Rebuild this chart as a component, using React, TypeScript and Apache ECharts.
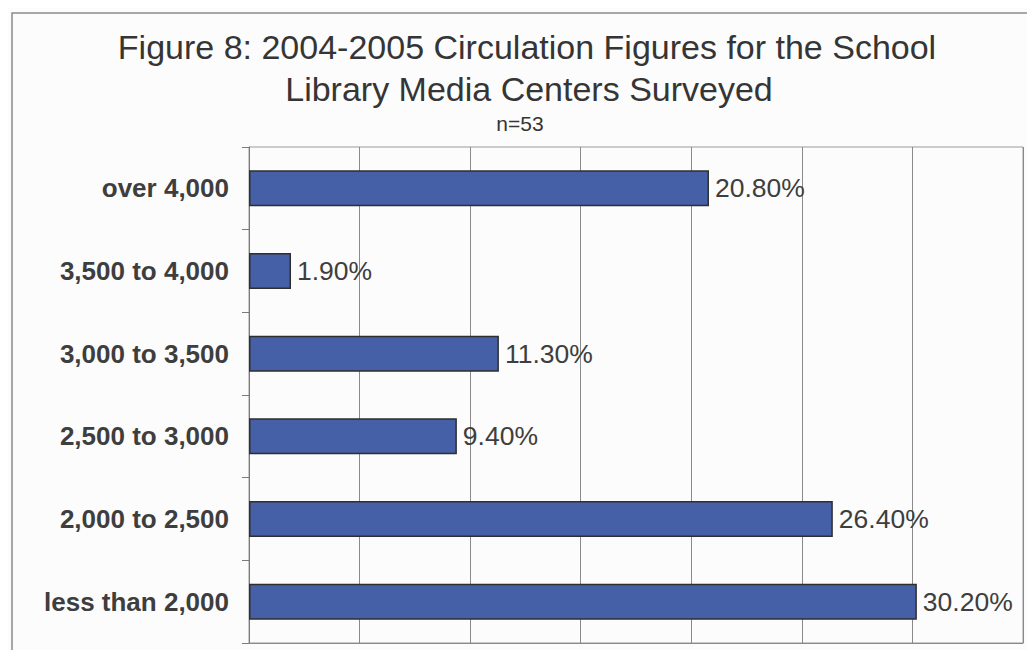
import React, { useEffect, useRef } from "react";
import * as echarts from "echarts";

const categories = [
  "less than 2,000",
  "2,000 to 2,500",
  "2,500 to 3,000",
  "3,000 to 3,500",
  "3,500 to 4,000",
  "over 4,000",
];
const values = [30.2, 26.4, 9.4, 11.3, 1.9, 20.8];
const titleLines = [
  "Figure 8: 2004-2005 Circulation Figures for the School",
  "Library Media Centers Surveyed",
];
const subtitle = "n=53";

export default function App() {
  const ref = useRef<HTMLDivElement>(null);
  useEffect(() => {
    if (!ref.current) return;
    const chart = echarts.init(ref.current, null, { renderer: "svg" });
    const font = "'Liberation Sans', Arial, sans-serif";
    chart.setOption({
      animation: false,
      backgroundColor: "#fcfcfc",
      graphic: [
        {
          type: "rect",
          shape: { x: 12, y: 13, width: 1040, height: 642 },
          style: { fill: "none", stroke: "#8a8a8a", lineWidth: 1.5 },
          silent: true,
        },
        {
          type: "text",
          x: 527,
          y: 47,
          style: {
            text: titleLines[0],
            font: `34px ${font}`,
            fill: "#353535",
            align: "center",
            verticalAlign: "middle",
          },
        },
        {
          type: "text",
          x: 529,
          y: 89,
          style: {
            text: titleLines[1],
            font: `34px ${font}`,
            fill: "#353535",
            align: "center",
            verticalAlign: "middle",
          },
        },
        {
          type: "text",
          x: 520,
          y: 123,
          style: {
            text: subtitle,
            font: `21px ${font}`,
            fill: "#353535",
            align: "center",
            verticalAlign: "middle",
          },
        },
      ],
      grid: {
        left: 249,
        right: 12,
        top: 147,
        bottom: 15,
        show: true,
        borderColor: "#9a9a9a",
        borderWidth: 1,
        backgroundColor: "transparent",
      },
      xAxis: {
        type: "value",
        min: 0,
        max: 35,
        interval: 5,
        axisLabel: { show: false },
        axisTick: { show: false },
        axisLine: { show: true, lineStyle: { color: "#8a8a8a" } },
        splitLine: { show: true, lineStyle: { color: "#8a8a8a", width: 1 } },
      },
      yAxis: {
        type: "category",
        data: categories,
        axisLine: { show: true, lineStyle: { color: "#7a7a7a" } },
        axisTick: { show: true, length: 7, lineStyle: { color: "#7a7a7a" } },
        axisLabel: {
          fontFamily: font,
          fontSize: 26,
          fontWeight: "bold",
          color: "#3e3e3e",
          margin: 20,
        },
      },
      series: [
        {
          type: "bar",
          data: values,
          barWidth: 36,
          itemStyle: { color: "#4660a8", borderColor: "#2e2e2e", borderWidth: 1.5 },
          label: {
            show: true,
            position: "right",
            distance: 6,
            fontFamily: font,
            fontSize: 26.5,
            color: "#3e3e3e",
            formatter: (p: any) => `${Number(p.value).toFixed(2)}%`,
          },
        },
      ],
    });
    return () => chart.dispose();
  }, []);
  return <div ref={ref} style={{ width: 1035, height: 658, margin: -8 }} />;
}
